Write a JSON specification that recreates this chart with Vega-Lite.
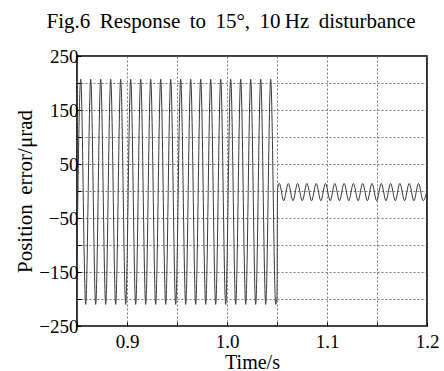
{
  "$schema": "https://vega.github.io/schema/vega-lite/v6.json",
  "width": 350,
  "height": 270,
  "autosize": "none",
  "padding": {"left": 77, "top": 56, "right": 17, "bottom": 45},
  "background": "white",
  "title": {
    "text": "Fig.6 \u2009Response \u2009to \u200915°, \u200910\u2009Hz \u2009disturbance",
    "font": "Liberation Serif",
    "fontSize": 21,
    "fontWeight": "normal",
    "color": "#000",
    "anchor": "middle",
    "dx": -21,
    "baseline": "bottom",
    "offset": -6
  },
  "config": {
    "view": {"stroke": "#000", "strokeWidth": 1.6},
    "axis": {
      "labelFont": "Liberation Serif",
      "labelFontSize": 19,
      "labelColor": "#000",
      "titleFont": "Liberation Serif",
      "titleFontSize": 20,
      "titleFontWeight": "normal",
      "titleColor": "#000",
      "domain": false,
      "grid": true,
      "gridColor": "#555",
      "gridDash": [2, 2],
      "gridWidth": 0.8,
      "ticks": true,
      "tickColor": "#000",
      "tickSize": -4,
      "tickWidth": 1
    }
  },
  "data": {
    "values": [
      {"t": 0.85, "e": -120},
      {"t": 0.8537, "e": 207}, {"t": 0.8587, "e": -210},
      {"t": 0.8637, "e": 207}, {"t": 0.8687, "e": -210},
      {"t": 0.8737, "e": 207}, {"t": 0.8787, "e": -210},
      {"t": 0.8837, "e": 207}, {"t": 0.8887, "e": -210},
      {"t": 0.8937, "e": 207}, {"t": 0.8987, "e": -210},
      {"t": 0.9037, "e": 207}, {"t": 0.9087, "e": -210},
      {"t": 0.9137, "e": 207}, {"t": 0.9187, "e": -210},
      {"t": 0.9237, "e": 207}, {"t": 0.9287, "e": -210},
      {"t": 0.9337, "e": 207}, {"t": 0.9387, "e": -210},
      {"t": 0.9437, "e": 207}, {"t": 0.9487, "e": -210},
      {"t": 0.9537, "e": 207}, {"t": 0.9587, "e": -210},
      {"t": 0.9637, "e": 207}, {"t": 0.9687, "e": -210},
      {"t": 0.9737, "e": 207}, {"t": 0.9787, "e": -210},
      {"t": 0.9837, "e": 207}, {"t": 0.9887, "e": -210},
      {"t": 0.9937, "e": 207}, {"t": 0.9987, "e": -210},
      {"t": 1.0037, "e": 207}, {"t": 1.0087, "e": -210},
      {"t": 1.0137, "e": 207}, {"t": 1.0187, "e": -210},
      {"t": 1.0237, "e": 207}, {"t": 1.0287, "e": -210},
      {"t": 1.0337, "e": 207}, {"t": 1.0387, "e": -210},
      {"t": 1.0437, "e": 207}, {"t": 1.0487, "e": -210},
      {"t": 1.05, "e": -195},
      {"t": 1.0505, "e": 2},
      {"t": 1.0523, "e": 14}, {"t": 1.0567, "e": -18},
      {"t": 1.0613, "e": 14}, {"t": 1.066, "e": -18},
      {"t": 1.0706, "e": 14}, {"t": 1.0753, "e": -18},
      {"t": 1.0799, "e": 14}, {"t": 1.0846, "e": -18},
      {"t": 1.0892, "e": 14}, {"t": 1.0939, "e": -18},
      {"t": 1.0985, "e": 14}, {"t": 1.1032, "e": -18},
      {"t": 1.1078, "e": 14}, {"t": 1.1125, "e": -18},
      {"t": 1.1171, "e": 14}, {"t": 1.1218, "e": -18},
      {"t": 1.1264, "e": 14}, {"t": 1.1311, "e": -18},
      {"t": 1.1357, "e": 14}, {"t": 1.1404, "e": -18},
      {"t": 1.145, "e": 14}, {"t": 1.1497, "e": -18},
      {"t": 1.1543, "e": 14}, {"t": 1.159, "e": -18},
      {"t": 1.1636, "e": 14}, {"t": 1.1683, "e": -18},
      {"t": 1.1729, "e": 14}, {"t": 1.1776, "e": -18},
      {"t": 1.1822, "e": 14}, {"t": 1.1869, "e": -18},
      {"t": 1.1915, "e": 14}, {"t": 1.1962, "e": -18},
      {"t": 1.2, "e": 0}
    ]
  },
  "mark": {"type": "line", "color": "#3a3a3a", "strokeWidth": 1, "interpolate": "monotone", "clip": true},
  "encoding": {
    "x": {
      "field": "t",
      "type": "quantitative",
      "scale": {"domain": [0.85, 1.2], "nice": false, "zero": false},
      "axis": {
        "title": "Time/s",
        "values": [0.85, 0.9, 0.95, 1.0, 1.05, 1.1, 1.15, 1.2],
        "format": ".1f",
        "labelExpr": "round(datum.value * 100) % 10 == 0 ? datum.label : ''",
        "labelPadding": 10,
        "titlePadding": 1,
        "labelFlush": false,
        "labelOverlap": false
      }
    },
    "y": {
      "field": "e",
      "type": "quantitative",
      "scale": {"domain": [-250, 250], "nice": false},
      "axis": {
        "title": "Position \u2009error/μrad",
        "titleFontSize": 21,
        "values": [-250, -200, -150, -100, -50, 0, 50, 100, 150, 200, 250],
        "labelExpr": "abs(datum.value) % 100 == 50 ? datum.label : ''",
        "labelPadding": 3,
        "titlePadding": 3,
        "labelFlush": false,
        "labelOverlap": false
      }
    }
  }
}
